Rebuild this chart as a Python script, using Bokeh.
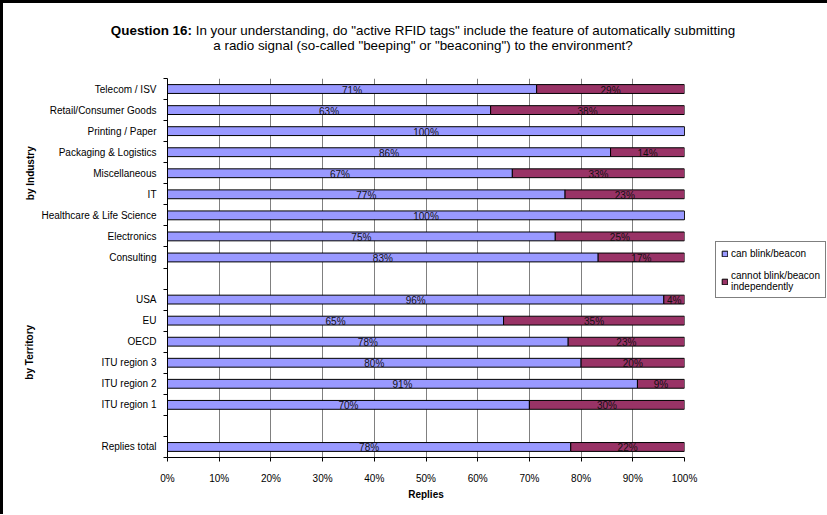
import math
from bokeh.plotting import figure
from bokeh.models import (Range1d, FixedTicker, NumeralTickFormatter, ColumnDataSource,
                          Legend, LegendItem, LinearAxis, Div)
from bokeh.layouts import column
from bokeh.embed import file_html
from bokeh.resources import INLINE
from bokeh.core.properties import value

# ---------------- data (percent of replies that say "can blink/beacon") ----------------
industries = ["Telecom / ISV", "Retail/Consumer Goods", "Printing / Paper",
              "Packaging & Logistics", "Miscellaneous", "IT",
              "Healthcare & Life Science", "Electronics", "Consulting"]
industry_can = [71.4, 62.5, 100.0, 85.7, 66.7, 76.9, 100.0, 75.0, 83.3]

territories = ["USA", "EU", "OECD", "ITU region 3", "ITU region 2", "ITU region 1"]
territory_can = [96.0, 65.0, 77.5, 80.0, 90.9, 70.0]

totals = ["Replies total"]
total_can = [78.0]

series_names = ["can blink/beacon", "cannot blink/beacon\nindependently"]
x_tick_values = [0, 10, 20, 30, 40, 50, 60, 70, 80, 90, 100]
title_bold = "Question 16:"
title_line1 = "In your understanding, do \"active RFID tags\" include the feature of automatically submitting"
title_line2 = "a radio signal (so-called \"beeping\" or \"beaconing\") to the environment?"
group_names = ["by Industry", "by Territory"]
x_title = "Replies"

# ---------------- build rows (top to bottom, blank separator rows) ----------------
rows = industries + [None] + territories + [None] + totals
can_vals = industry_can + [None] + territory_can + [None] + total_can
n = len(rows)
ypos = [n - 1 - i for i in range(n)]

FONT = "Liberation Sans"
BLUE = "#9999FF"
MAROON = "#993366"


def pct(v):
    return "%d%%" % int(math.floor(v + 0.5))


bar_y, can_f, full_f = [], [], []
lab_x, lab_y, lab_t = [], [], []
for name, v, y in zip(rows, can_vals, ypos):
    if name is None:
        continue
    c = v / 100.0
    bar_y.append(y)
    can_f.append(c)
    full_f.append(1.0)
    if v > 0:
        lab_x.append(c / 2)
        lab_y.append(y)
        lab_t.append(pct(v))
    if 100 - v > 0.05:
        lab_x.append((c + 1.0) / 2)
        lab_y.append(y)
        lab_t.append(pct(100 - v))

bars = ColumnDataSource(dict(y=bar_y, can=can_f, full=full_f, zero=[0.0] * len(bar_y)))
labels = ColumnDataSource(dict(x=lab_x, y=lab_y, t=lab_t))

p = figure(frame_width=517, frame_height=379,
           min_border_left=164, min_border_right=142, min_border_top=23, min_border_bottom=57,
           x_range=Range1d(0, 1), y_range=Range1d(-0.5, n - 0.5),
           output_backend="svg", toolbar_location=None, tools="", margin=0)
p.outline_line_color = None
p.background_fill_color = "white"
p.border_fill_color = "white"

r_can = p.hbar(y="y", left="zero", right="can", height=0.42, source=bars,
               fill_color=BLUE, line_color="black", line_width=1)
r_not = p.hbar(y="y", left="can", right="full", height=0.42, source=bars,
               fill_color=MAROON, line_color="black", line_width=1)

p.text(x="x", y="y", text="t", source=labels, text_align="center", text_baseline="middle",
       y_offset=1, text_font=value(FONT), text_font_size=value("10px"), text_color="#111111")

# x axis
xt = [v / 100.0 for v in x_tick_values]
p.xaxis.ticker = FixedTicker(ticks=xt)
p.xaxis.formatter = NumeralTickFormatter(format="0%")
p.xaxis.major_tick_out = 4
p.xaxis.major_tick_in = 0
p.xaxis.minor_tick_line_color = None
p.xaxis.axis_line_color = "black"
p.xaxis.major_tick_line_color = "black"
p.xaxis.major_label_standoff = 11
p.xaxis.major_label_text_font = FONT
p.xaxis.major_label_text_font_size = "10px"
p.xaxis.major_label_text_color = "black"
p.xaxis.axis_label = x_title
p.xaxis.axis_label_text_font = FONT
p.xaxis.axis_label_text_font_size = "10px"
p.xaxis.axis_label_text_font_style = "bold"
p.xaxis.axis_label_text_color = "black"
p.xaxis.axis_label_standoff = 2

# y axis (category labels)
named = [(name, y) for name, y in zip(rows, ypos) if name is not None]
p.yaxis.ticker = FixedTicker(ticks=[y for _, y in named],
                             minor_ticks=[i - 0.5 for i in range(n + 1)])
p.yaxis.major_label_overrides = {y: name for name, y in named}
p.yaxis.major_tick_out = 0
p.yaxis.major_tick_in = 0
p.yaxis.minor_tick_out = 4
p.yaxis.minor_tick_in = 0
p.yaxis.minor_tick_line_color = "black"
p.yaxis.axis_line_color = "black"
p.yaxis.major_label_standoff = 7
p.yaxis.major_label_text_font = FONT
p.yaxis.major_label_text_font_size = "10px"
p.yaxis.major_label_text_color = "black"

# outer axis carrying the group names
groups = [industries, territories]
g_pos = []
for members in groups:
    ys = [y for name, y in named if name in members]
    g_pos.append(sum(ys) / len(ys))
gaxis = LinearAxis(ticker=FixedTicker(ticks=g_pos),
                   major_label_overrides={gp: gn for gp, gn in zip(g_pos, group_names)},
                   major_label_orientation="vertical",
                   axis_line_color=None, major_tick_line_color=None, minor_tick_line_color=None,
                   major_tick_out=0, major_tick_in=0, major_label_standoff=3,
                   major_label_text_font=FONT, major_label_text_font_size="10px",
                   major_label_text_font_style="bold", major_label_text_color="black")
p.add_layout(gaxis, "left")

p.xgrid.ticker = FixedTicker(ticks=xt)
p.xgrid.grid_line_color = "#808080"
p.ygrid.grid_line_color = None

legend = Legend(items=[LegendItem(label=series_names[0], renderers=[r_can]),
                       LegendItem(label=series_names[1], renderers=[r_not])],
                location=(31, 159))
legend.border_line_color = "black"
legend.border_line_width = 1
legend.background_fill_color = "white"
legend.background_fill_alpha = 1
legend.glyph_width = 7
legend.glyph_height = 7
legend.label_text_font = FONT
legend.label_text_font_size = "10px"
legend.label_text_color = "black"
legend.label_standoff = 3
legend.label_height = 12
legend.spacing = 11
legend.padding = 5
legend.margin = 0
p.add_layout(legend, "right")

title_html = (
    '<div style="box-sizing:border-box; width:823px; padding-left:17px; padding-top:20px; '
    'text-align:center; font-family:\'%s\'; font-size:13.4px; line-height:15px; color:#000; '
    'white-space:nowrap;"><b>%s</b> %s<br>%s</div>' % (FONT, title_bold, title_line1, title_line2)
)
title_div = Div(text=title_html, width=823, height=52, margin=0)

page = column(title_div, p, spacing=0, margin=0,
              styles={"border-left": "3px solid #000", "border-top": "3px solid #000"})

open("out.html", "w").write(file_html(page, INLINE))
